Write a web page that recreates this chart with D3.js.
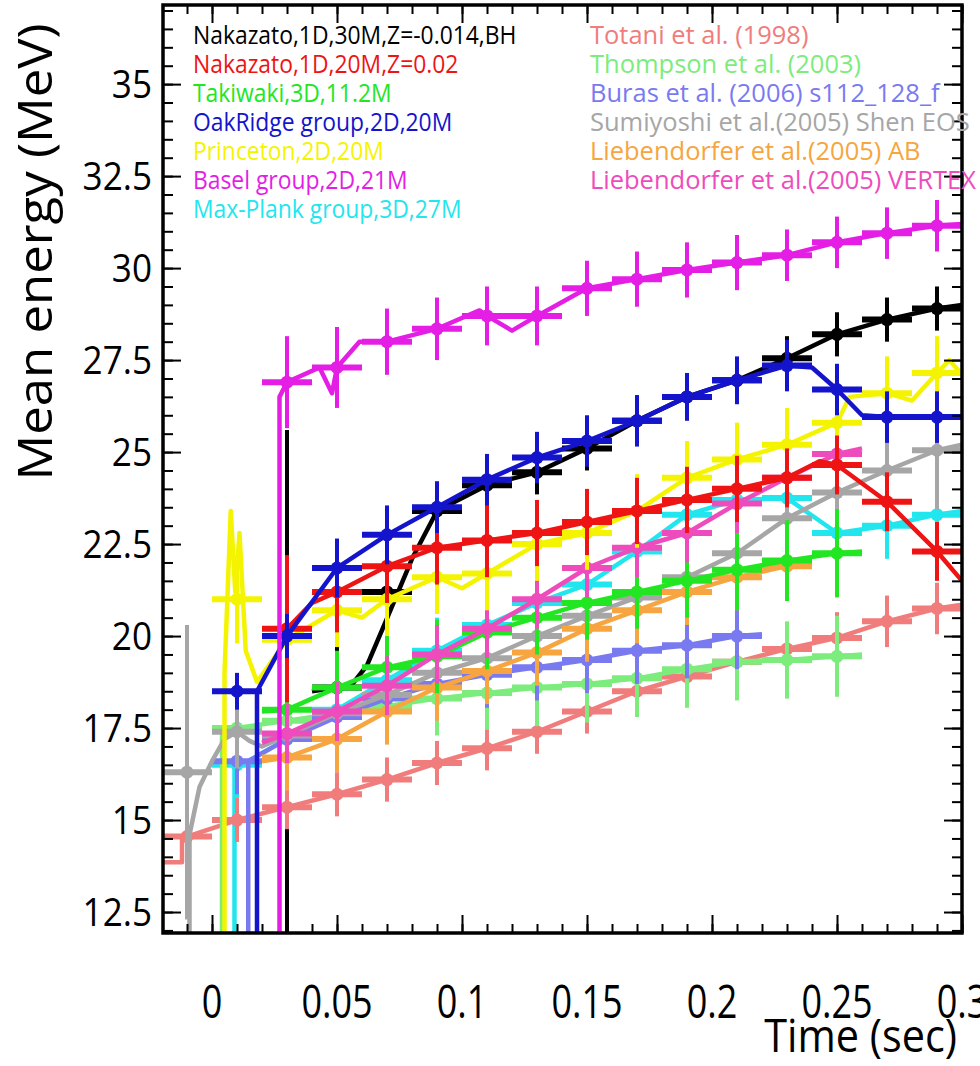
<!DOCTYPE html>
<html>
<head>
<meta charset="utf-8">
<script src="https://cdn.jsdelivr.net/npm/d3@7"></script>
<style>
  body { margin: 0; background: #fff; }
  svg { display: block; }
  text { font-family: "Open Sans", "DejaVu Sans", sans-serif; }
</style>
</head>
<body>
<svg id="chart" width="980" height="1066"></svg>
<script>
// ── time bins (sec), every point is the bin centre ──
const T = [-0.01, 0.01, 0.03, 0.05, 0.07, 0.09, 0.11, 0.13, 0.15, 0.17, 0.19, 0.21, 0.23, 0.25, 0.27, 0.29];

// ── axis ticks ──
const xTicks = [0, 0.05, 0.1, 0.15, 0.2, 0.25, 0.3];
const xTickLabels = ['0', '0.05', '0.1', '0.15', '0.2', '0.25', '0.3'];
const yTicks = [12.5, 15, 17.5, 20, 22.5, 25, 27.5, 30, 32.5, 35];
const yTickLabels = ['12.5', '15', '17.5', '20', '22.5', '25', '27.5', '30', '32.5', '35'];

// ── series: mean energy (MeV) per bin, error (MeV), and extra line vertices [t, E] ──
const nak30    = [null, null, 11.6, 18.6, 21.2, 23.4, 24.1, 24.45, 25.1, 25.85, 26.5, 26.95, 27.55, 28.2, 28.6, 28.9];
const nak30Err = [0, 0, 14.0, 2.2, 1.2, 0.8, 0.7, 0.6, 0.6, 0.6, 0.6, 0.6, 0.6, 0.6, 0.6, 0.6];
const nak30Line = [[0.04, 18.5], [0.055, 18.6], [0.062, 19.2], [0.0695, 20.4], [0.08, 22.1], [0.3, 29.0]];

const nak20    = [null, null, 20.2, 21.2, 21.9, 22.4, 22.6, 22.8, 23.1, 23.4, 23.7, 24.0, 24.3, 24.65, 23.65, 22.3];
const nak20Err = [0, 0, 2.0, 1.1, 1.0, 1.0, 1.0, 0.9, 0.9, 0.9, 0.9, 0.9, 0.8, 0.8, 0.8, 0.8];
const nak20Line = [[0.03, 20.2], [0.04, 20.9], [0.243, 24.75], [0.3, 21.5]];

const takiwaki    = [null, null, 18.0, 18.6, 19.15, 19.45, 20.1, 20.5, 20.9, 21.2, 21.5, 21.8, 22.05, 22.25, null, null];
const takiwakiErr = [0, 0, 1.0, 1.0, 1.0, 1.0, 1.0, 1.0, 1.0, 1.0, 1.0, 1.1, 1.1, 1.2, 0, 0];
const takiwakiLine = [[0.02, 17.95], [0.26, 22.3]];

const oakridge    = [null, 18.5, 20.0, 21.85, 22.75, 23.5, 24.25, 24.85, 25.3, 25.85, 26.5, 26.95, 27.35, 26.7, 25.95, 25.95];
const oakridgeErr = [0, 0.5, 0.6, 0.8, 0.8, 0.7, 0.7, 0.7, 0.7, 0.7, 0.65, 0.65, 0.7, 0.7, 0.7, 0.7];
const oakridgeLine = [[0.018, 11], [0.018, 18.5], [0.24, 27.3], [0.26, 26.0], [0.3, 25.95]];

const princeton    = [null, 21.0, 19.9, 20.7, 21.0, 21.6, 21.7, 22.5, 22.8, 23.4, 24.3, 24.8, 25.2, 25.8, 26.6, 27.15];
const princetonErr = [0, 1.2, 1.0, 1.0, 1.0, 1.0, 1.0, 1.0, 1.0, 1.0, 1.0, 1.0, 1.0, 1.0, 1.0, 1.0];
const princetonLine = [[0.005, 11], [0.005, 19], [0.0075, 23.4], [0.0093, 21.2], [0.011, 22.8], [0.0135, 19.6],
                       [0.018, 18.75], [0.06, 20.5], [0.08, 21.3], [0.1, 21.3], [0.255, 26.5], [0.28, 26.4],
                       [0.295, 27.5], [0.3, 27.1]];

const basel    = [null, null, 26.9, 27.3, 28.0, 28.35, 28.7, 28.7, 29.45, 29.7, 29.95, 30.15, 30.35, 30.7, 30.95, 31.15];
const baselErr = [0, 0, 1.25, 1.1, 0.9, 0.85, 0.8, 0.8, 0.75, 0.75, 0.75, 0.75, 0.7, 0.7, 0.7, 0.7];
const baselLine = [[0.027, 11], [0.027, 26.5], [0.043, 27.3], [0.048, 26.6], [0.059, 28.0], [0.107, 28.85],
                   [0.12, 28.3], [0.3, 31.2]];

const maxplank    = [null, 16.5, 17.2, 18.0, 18.8, 19.6, 20.3, 20.9, 21.4, 22.3, 23.3, 23.7, 23.75, 22.8, 23.0, 23.3];
const maxplankErr = [0, 0.9, 0.9, 0.9, 0.9, 0.9, 0.9, 0.9, 0.9, 0.9, 0.9, 0.9, 0.9, 0.9, 0.9, 0.9];
const maxplankLine = [[0.009, 11], [0.009, 16.4], [0.3, 23.4]];

const totani    = [14.55, 15.0, 15.35, 15.7, 16.1, 16.55, 16.95, 17.4, 17.95, 18.5, 18.9, 19.3, 19.65, 19.95, 20.4, 20.75];
const totaniErr = [0.6, 0.6, 0.6, 0.6, 0.6, 0.6, 0.6, 0.6, 0.6, 0.6, 0.6, 0.6, 0.7, 0.7, 0.7, 0.7];
const totaniLine = [[-0.03, 13.85], [-0.012, 13.85], [-0.012, 14.55], [0.3, 20.85]];

const thompson    = [null, 17.5, 17.7, 17.9, 18.1, 18.3, 18.45, 18.6, 18.7, 18.85, 19.1, 19.3, 19.35, 19.45, null, null];
const thompsonErr = [0, 1.0, 1.0, 1.0, 1.0, 1.0, 1.0, 1.05, 1.05, 1.05, 1.05, 1.05, 1.05, 1.1, 0, 0];
const thompsonLine = [[0.004, 11], [0.004, 17.3], [0.26, 19.5]];

const buras    = [null, 16.6, 17.2, 17.8, 18.3, 18.7, 18.95, 19.15, 19.35, 19.6, 19.75, 20.0, null, null, null, null];
const burasErr = [0, 0.9, 0.9, 0.9, 0.9, 0.9, 0.9, 0.9, 0.9, 0.9, 0.9, 0.9, 0, 0, 0, 0];
const burasLine = [[0.0145, 11], [0.0145, 16.6], [0.22, 20.05]];

const sumiyoshi    = [16.3, 17.4, 17.3, 17.9, 18.4, 19.0, 19.4, 20.0, 20.55, 21.05, 21.6, 22.25, 23.2, 23.9, 24.5, 25.05];
const sumiyoshiErr = [4.0, 1.0, 0.9, 0.9, 0.9, 0.9, 0.9, 0.9, 0.9, 1.0, 1.0, 1.1, 1.2, 1.3, 1.4, 1.6];
const sumiyoshiLine = [[-0.009, 11], [-0.009, 14.6], [-0.005, 15.9], [0, 16.6], [0.005, 17.2], [0.015, 17.15],
                       [0.02, 17.0], [0.3, 25.2]];

const liebAB    = [null, null, 16.7, 17.2, 17.95, 18.6, 19.05, 19.55, 20.2, 20.7, 21.2, 21.6, 21.9, null, null, null];
const liebABErr = [0, 0, 0.9, 0.9, 0.9, 0.9, 0.9, 0.9, 0.9, 0.9, 0.9, 0.9, 0.9, 0, 0, 0];
const liebABLine = [[0.02, 16.6], [0.24, 22.0]];

const liebVX    = [null, null, 17.35, 17.95, 18.65, 19.5, 20.2, 21.0, 21.85, 22.4, 22.8, 23.6, 24.3, 24.95, null, null];
const liebVXErr = [0, 0, 0.8, 0.8, 0.8, 0.8, 0.8, 0.8, 0.8, 0.8, 0.8, 0.8, 0.8, 0.8, 0, 0];
const liebVXLine = [[0.02, 17.1], [0.26, 25.1]];

// legend columns (in picture order)
const legendLeft = [
  { name: 'Nakazato,1D,30M,Z=-0.014,BH', color: '#000000', pts: nak30, err: nak30Err, line: nak30Line },
  { name: 'Nakazato,1D,20M,Z=0.02', color: '#ee1414', pts: nak20, err: nak20Err, line: nak20Line },
  { name: 'Takiwaki,3D,11.2M', color: '#22e622', pts: takiwaki, err: takiwakiErr, line: takiwakiLine },
  { name: 'OakRidge group,2D,20M', color: '#1414cc', pts: oakridge, err: oakridgeErr, line: oakridgeLine },
  { name: 'Princeton,2D,20M', color: '#f4f400', pts: princeton, err: princetonErr, line: princetonLine },
  { name: 'Basel group,2D,21M', color: '#e41ee4', pts: basel, err: baselErr, line: baselLine },
  { name: 'Max-Plank group,3D,27M', color: '#22e6ee', pts: maxplank, err: maxplankErr, line: maxplankLine },
];
const legendRight = [
  { name: 'Totani et al. (1998)', color: '#f07c7c', pts: totani, err: totaniErr, line: totaniLine },
  { name: 'Thompson et al. (2003)', color: '#7cec7c', pts: thompson, err: thompsonErr, line: thompsonLine },
  { name: 'Buras et al. (2006) s112_128_f', color: '#7a7af0', pts: buras, err: burasErr, line: burasLine },
  { name: 'Sumiyoshi et al.(2005) Shen EOS', color: '#a6a6a6', pts: sumiyoshi, err: sumiyoshiErr, line: sumiyoshiLine },
  { name: 'Liebendorfer et al.(2005) AB', color: '#f6a540', pts: liebAB, err: liebABErr, line: liebABLine },
  { name: 'Liebendorfer et al.(2005) VERTEX', color: '#ee4cbc', pts: liebVX, err: liebVXErr, line: liebVXLine },
];

const byName = {};
[...legendLeft, ...legendRight].forEach(s => byName[s.name] = s);
// which series is painted over which
const drawOrder = [
  'Nakazato,1D,30M,Z=-0.014,BH', 'Max-Plank group,3D,27M', 'Totani et al. (1998)', 'Thompson et al. (2003)',
  'Buras et al. (2006) s112_128_f', 'Sumiyoshi et al.(2005) Shen EOS', 'Liebendorfer et al.(2005) AB',
  'Takiwaki,3D,11.2M', 'Liebendorfer et al.(2005) VERTEX', 'Princeton,2D,20M', 'Nakazato,1D,20M,Z=0.02',
  'OakRidge group,2D,20M', 'Basel group,2D,21M'
];

const margin = { left: 163, top: 5, right: 962, bottom: 933 };
const svg = d3.select('#chart');

const x = d3.scaleLinear().domain([-0.0196, 0.3]).range([margin.left, margin.right]);
const y = d3.scaleLinear().domain([11.93, 37.15]).range([margin.bottom, margin.top]);

svg.append('defs').append('clipPath').attr('id', 'plot-clip')
  .append('rect')
  .attr('x', margin.left).attr('y', margin.top)
  .attr('width', margin.right - margin.left).attr('height', margin.bottom - margin.top);

const plot = svg.append('g').attr('clip-path', 'url(#plot-clip)');

// merge the bin points with the extra vertices into one polyline
function buildLine(s) {
  const onset = d3.min(s.line, d => d[0]);
  const verts = s.line.map(d => d.slice());
  T.forEach((t, i) => {
    if (s.pts[i] == null || t <= onset) return;
    if (s.line.some(d => Math.abs(d[0] - t) < 0.002)) return;
    verts.push([t, s.pts[i]]);
  });
  verts.sort((a, b) => a[0] - b[0]);
  return verts;
}

const lineGen = d3.line().x(d => x(d[0])).y(d => y(d[1]));

drawOrder.forEach(name => {
  const s = byName[name];
  const g = plot.append('g');
  const pts = T.map((t, i) => ({ t, v: s.pts[i], e: s.err[i] })).filter(d => d.v != null);

  g.append('path')
    .attr('d', lineGen(buildLine(s)))
    .attr('fill', 'none')
    .attr('stroke', s.color)
    .attr('stroke-width', 4.5)
    .attr('stroke-linejoin', 'round');

  // vertical error bars
  g.selectAll('line.ev').data(pts).join('line')
    .attr('class', 'ev')
    .attr('x1', d => x(d.t)).attr('x2', d => x(d.t))
    .attr('y1', d => y(d.v - d.e)).attr('y2', d => y(d.v + d.e))
    .attr('stroke', s.color).attr('stroke-width', 4);

  // horizontal (bin width) bars
  g.selectAll('line.eh').data(pts).join('line')
    .attr('class', 'eh')
    .attr('x1', d => x(d.t - 0.01)).attr('x2', d => x(d.t + 0.01))
    .attr('y1', d => y(d.v)).attr('y2', d => y(d.v))
    .attr('stroke', s.color).attr('stroke-width', 6);

  g.selectAll('circle').data(pts).join('circle')
    .attr('cx', d => x(d.t)).attr('cy', d => y(d.v))
    .attr('r', 6.5)
    .attr('fill', s.color);
});

// ── frame ticks on all four sides ──
const xMinor = d3.range(-1, 31).map(i => i / 100);
const yMinor = d3.range(24, 75).map(i => i / 2);

function ticks(axis, tx, ty) {
  const g = svg.append('g').attr('transform', `translate(${tx},${ty})`).call(axis);
  g.select('.domain').remove();
  g.selectAll('.tick line').attr('stroke', '#000').attr('stroke-width', 2);
  g.selectAll('.tick text').remove();
}
ticks(d3.axisBottom(x).tickValues(xMinor).tickSize(-9), 0, margin.bottom);
ticks(d3.axisBottom(x).tickValues(xTicks).tickSize(-18), 0, margin.bottom);
ticks(d3.axisTop(x).tickValues(xMinor).tickSize(-9), 0, margin.top);
ticks(d3.axisTop(x).tickValues(xTicks).tickSize(-18), 0, margin.top);
ticks(d3.axisLeft(y).tickValues(yMinor).tickSize(-10), margin.left, 0);
ticks(d3.axisLeft(y).tickValues(yTicks).tickSize(-18), margin.left, 0);
ticks(d3.axisRight(y).tickValues(yMinor).tickSize(-10), margin.right, 0);
ticks(d3.axisRight(y).tickValues(yTicks).tickSize(-18), margin.right, 0);

svg.append('rect')
  .attr('x', margin.left).attr('y', margin.top)
  .attr('width', margin.right - margin.left).attr('height', margin.bottom - margin.top)
  .attr('fill', 'none').attr('stroke', '#000').attr('stroke-width', 3.5);

// ── tick labels ──
svg.append('g').selectAll('text').data(xTicks).join('text')
  .attr('transform', d => `translate(${x(d)},1018) scale(0.8,1)`)
  .attr('text-anchor', 'middle')
  .attr('font-size', 45)
  .text((d, i) => xTickLabels[i]);

svg.append('g').selectAll('text').data(yTicks).join('text')
  .attr('transform', d => `translate(152,${y(d) + 14}) scale(0.9,1)`)
  .attr('text-anchor', 'end')
  .attr('font-size', 39)
  .text((d, i) => yTickLabels[i]);

// ── axis titles ──
svg.append('text')
  .attr('transform', 'translate(957,1052) scale(0.9,1)')
  .attr('text-anchor', 'end')
  .attr('font-size', 46)
  .text('Time (sec)');

svg.append('text')
  .attr('transform', 'translate(52,252) rotate(-90) scale(1.06,1)')
  .attr('text-anchor', 'middle')
  .attr('font-size', 48)
  .text('Mean energy (MeV)');

// ── legend ──
function legendColumn(items, x0, sx) {
  svg.append('g').selectAll('text').data(items).join('text')
    .attr('transform', (d, i) => `translate(${x0},${44 + i * 29}) scale(${sx},1)`)
    .attr('font-size', 26)
    .attr('fill', d => d.color)
    .text(d => d.name);
}
legendColumn(legendLeft, 193, 0.88);
legendColumn(legendRight, 590, 0.98);
</script>
</body>
</html>
